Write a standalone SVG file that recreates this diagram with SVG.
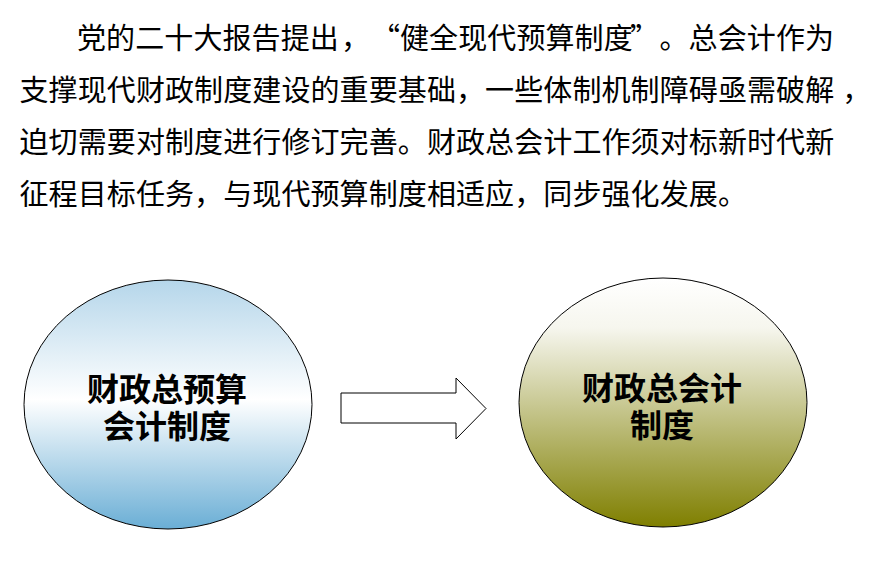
<svg xmlns="http://www.w3.org/2000/svg" width="886" height="575" viewBox="0 0 886 575">
  <style>
    .para { font-family: "Noto Sans CJK SC", "Noto Sans", sans-serif; font-size: 29px; fill: #000; letter-spacing: 0.1px; }
    .label { font-family: "Liberation Sans", "Noto Sans CJK SC", sans-serif; font-size: 32px; font-weight: bold; fill: #000; text-anchor: middle; }
    .node-shape { stroke: #000; stroke-width: 1; }
  </style>
  <defs>
    <linearGradient id="gBlue" x1="0" y1="0" x2="0" y2="1">
      <stop offset="0" stop-color="#b5d6ea"/>
      <stop offset="0.48" stop-color="#ffffff"/>
      <stop offset="1" stop-color="#6aaed5"/>
    </linearGradient>
    <linearGradient id="gOlive" x1="0" y1="0" x2="0" y2="1">
      <stop offset="0" stop-color="#ffffff"/>
      <stop offset="0.2" stop-color="#f6f6ee"/>
      <stop offset="1" stop-color="#7f7f00"/>
    </linearGradient>
  </defs>
  <rect width="886" height="575" fill="#ffffff"/>

  <g id="paragraph">
    <text class="para" y="49"><tspan x="77">党的二十大报告提出</tspan><tspan dx="2">，</tspan><tspan x="371">“</tspan><tspan x="400">健全现代预算制度</tspan><tspan x="630">”</tspan><tspan x="659.5">。总会计作为</tspan></text>
    <text class="para" y="101"><tspan x="19.5">支撑现代财政制度建设的重要基础，一些体制机制障碍亟需破解</tspan><tspan dx="8">，</tspan></text>
    <text class="para" x="19.5" y="153">迫切需要对制度进行修订完善。财政总会计工作须对标新时代新</text>
    <text class="para" x="19.5" y="205">征程目标任务，与现代预算制度相适应，同步强化发展。</text>
  </g>

  <g id="node-budget">
    <ellipse class="node-shape" cx="168" cy="404.5" rx="144" ry="124.5" fill="url(#gBlue)"/>
    <text class="label"><tspan x="167" y="401">财政总预算</tspan><tspan x="167" y="438">会计制度</tspan></text>
  </g>

  <g id="node-general">
    <ellipse class="node-shape" cx="663" cy="402.5" rx="144" ry="124.5" fill="url(#gOlive)"/>
    <text class="label"><tspan x="662" y="400">财政总会计</tspan><tspan x="662" y="437">制度</tspan></text>
  </g>

  <g id="connectors">
    <polygon points="341,393 456,393 456,378 486,408.5 456,439 456,423 341,423" fill="#ffffff" stroke="#000" stroke-width="1"/>
  </g>
</svg>
